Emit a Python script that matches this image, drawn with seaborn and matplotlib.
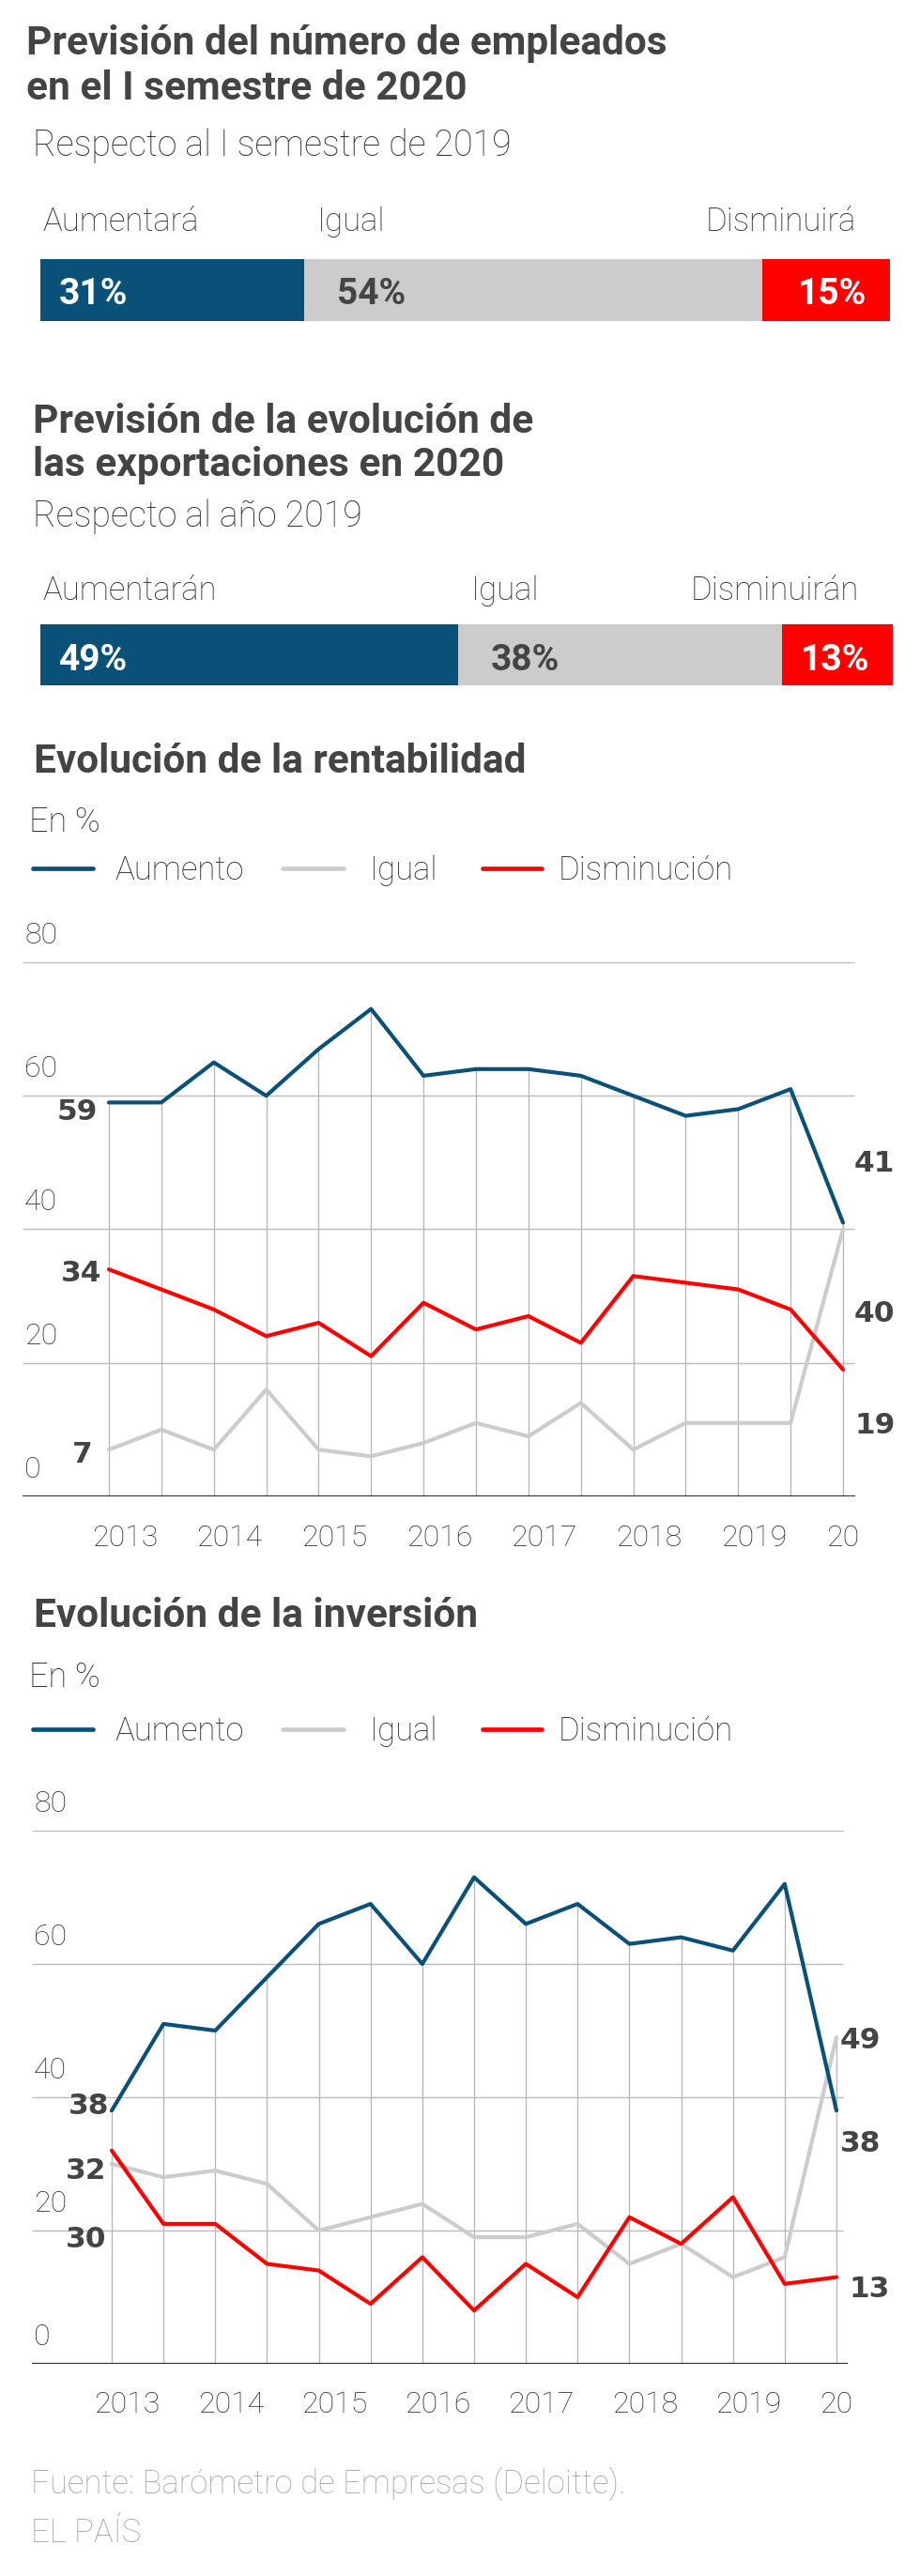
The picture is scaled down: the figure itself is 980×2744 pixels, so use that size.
import numpy as np
import pandas as pd
import seaborn as sns
import matplotlib.pyplot as plt
from matplotlib.lines import Line2D
from matplotlib import transforms

# --- data ---
bar_cats_empleo = ['Aumentará', 'Igual', 'Disminuirá']
bar_vals_empleo = [31, 54, 15]
bar_cats_export = ['Aumentarán', 'Igual', 'Disminuirán']
bar_vals_export = [49, 38, 13]

series_names = ['Aumento', 'Igual', 'Disminución']
year_labels = ['2013', '2014', '2015', '2016', '2017', '2018', '2019', '20']
semestres = list(range(15))  # 2013 I ... 2020 I

rent_aumento = [59, 59, 65, 60, 67, 73, 63, 64, 64, 63, 60, 57, 58, 61, 41]
rent_igual = [7, 10, 7, 16, 7, 6, 8, 11, 9, 14, 7, 11, 11, 11, 40]
rent_dismin = [34, 31, 28, 24, 26, 21, 29, 25, 27, 23, 33, 32, 31, 28, 19]

inv_aumento = [38, 51, 50, 58, 66, 69, 60, 73, 66, 69, 63, 64, 62, 72, 38]
inv_igual = [30, 28, 29, 27, 20, 22, 24, 19, 19, 21, 15, 18, 13, 16, 49]
inv_dismin = [32, 21, 21, 15, 14, 9, 16, 8, 15, 10, 22, 18, 25, 12, 13]

yticks = [0, 20, 40, 60, 80]

# --- style ---
BLUE = '#0a5179'
GREY = '#cccccc'
RED = '#ff0000'
DARK = '#444444'
TEXT = '#333333'
LIGHT = 'light'

sns.set_theme(style='white')
plt.rcParams['font.family'] = ['Roboto', 'DejaVu Sans']

W, H = 980, 2744
fig = plt.figure(figsize=(W / 100, H / 100), dpi=100)


def txt(x, y, s, size, color=TEXT, weight=LIGHT, ha='left'):
    fig.text(x / W, 1 - y / H, s, fontsize=size, color=color, weight=weight,
             ha=ha, va='baseline')


def stacked_bar(top, bottom, left, right, vals, cats, cat_gap, lab_drop):
    ax = fig.add_axes([left / W, 1 - bottom / H, (right - left) / W, (bottom - top) / H])
    starts = np.cumsum([0] + vals[:-1])
    ax.barh(0, vals, left=starts, height=1, color=[BLUE, GREY, RED], linewidth=0)
    ax.set_xlim(0, sum(vals))
    ax.set_ylim(-0.5, 0.5)
    ax.axis('off')
    # value labels inside the bar
    ax.annotate(f'{vals[0]}%', (starts[0], 0), xytext=(20, -lab_drop), textcoords='offset pixels',
                color='white', weight='bold', fontsize=28, va='baseline')
    ax.annotate(f'{vals[1]}%', (starts[1], 0), xytext=(35, -lab_drop), textcoords='offset pixels',
                color=DARK, weight='bold', fontsize=28, va='baseline')
    ax.annotate(f'{vals[2]}%', (starts[2] + vals[2], 0), xytext=(-25, -lab_drop), textcoords='offset pixels',
                color='white', weight='bold', fontsize=28, va='baseline', ha='right')
    # category labels above the bar
    ax.annotate(cats[0], (starts[0], 0.5), xytext=(2, cat_gap), textcoords='offset pixels',
                color=TEXT, fontsize=25, weight=LIGHT, va='baseline')
    ax.annotate(cats[1], (starts[1], 0.5), xytext=(14, cat_gap), textcoords='offset pixels',
                color=TEXT, fontsize=25, weight=LIGHT, va='baseline')
    ax.annotate(cats[2], (sum(vals), 0.5), xytext=(-36, cat_gap), textcoords='offset pixels',
                color=TEXT, fontsize=25, weight=LIGHT, va='baseline', ha='right')


def legend_row(y):
    items = [(35, 99, 122, BLUE, series_names[0]),
             (301, 366, 394, GREY, series_names[1]),
             (514, 577, 595, RED, series_names[2])]
    for x0, x1, xt, c, name in items:
        fig.add_artist(Line2D([x0 / W, x1 / W], [1 - y / H, 1 - y / H], color=c, lw=3.4,
                              solid_capstyle='round'))
        txt(xt, y + 12, name, 25)


def line_chart(top, bottom, left, right, x_first, x_last, grid_end, aum, igu, dis, tick_drop, ends):
    ax = fig.add_axes([left / W, 1 - bottom / H, (right - left) / W, (bottom - top) / H])
    unit = (x_last - x_first) / (len(semestres) - 1)
    ax.set_xlim(-(x_first - left) / unit, semestres[-1] + (right - x_last) / unit)
    ax.set_ylim(0, 80)
    for s in ax.spines.values():
        s.set_visible(False)
    ax.set_xticks([])
    ax.set_yticks([])
    xl = ax.get_xlim()
    ax.hlines(yticks[1:], xl[0], semestres[-1] + (grid_end - x_last) / unit,
              color='#bbbbbb', lw=1.0, zorder=1)
    ax.axhline(0, color='#333333', lw=1.6, zorder=4)
    tops = np.max([aum, igu, dis], axis=0)
    ax.vlines(semestres, 0, tops, color='#b5b5b5', lw=0.9, zorder=1)

    df = pd.DataFrame({
        'semestre': semestres * 3,
        'valor': aum + igu + dis,
        'serie': [series_names[0]] * 15 + [series_names[1]] * 15 + [series_names[2]] * 15,
    })
    sns.lineplot(data=df, x='semestre', y='valor', hue='serie',
                 hue_order=[series_names[1], series_names[0], series_names[2]],
                 palette={series_names[0]: BLUE, series_names[1]: GREY, series_names[2]: RED},
                 linewidth=3, legend=False, ax=ax, zorder=3)
    ax.set_xlabel('')
    ax.set_ylabel('')

    blend = transforms.blended_transform_factory(ax.transAxes, ax.transData)
    for v in yticks:
        ax.annotate(str(v), (0, v), xycoords=blend, xytext=(2, 20), textcoords='offset pixels',
                    fontsize=23, weight=LIGHT, color=TEXT, va='baseline')
    for k, lab in enumerate(year_labels):
        pos = 2 * k + 0.3 if k < len(year_labels) - 1 else semestres[-1]
        ax.annotate(lab, (pos, 0), xytext=(0, -tick_drop), textcoords='offset pixels',
                    fontsize=23, weight=LIGHT, color=TEXT, va='baseline', ha='center')
    # end-point labels
    for serie, idx, dx, dy in ends:
        ha = 'right' if idx == 0 else 'left'
        ax.annotate(str(serie[idx]), (semestres[idx], serie[idx]), xytext=(dx, dy),
                    textcoords='offset pixels', fontsize=22.5, weight='bold', color=DARK,
                    family='DejaVu Sans', ha=ha, va='center')
    return ax


# --- block 1: empleados ---
txt(28, 58, 'Previsión del número de empleados', 30.5, color=DARK, weight='bold')
txt(28, 106, 'en el I semestre de 2020', 30.5, color=DARK, weight='bold')
txt(35, 166, 'Respecto al I semestre de 2019', 27)
stacked_bar(276, 342, 43, 948, bar_vals_empleo, bar_cats_empleo, 30, 15)

# --- block 2: exportaciones ---
txt(35, 461, 'Previsión de la evolución de', 30.5, color=DARK, weight='bold')
txt(35, 507, 'las exportaciones en 2020', 30.5, color=DARK, weight='bold')
txt(35, 561, 'Respecto al año 2019', 27)
stacked_bar(665, 730, 43, 951, bar_vals_export, bar_cats_export, 26, 17)

# --- block 3: rentabilidad ---
txt(36, 823, 'Evolución de la rentabilidad', 30.5, color=DARK, weight='bold')
txt(31, 886, 'En %', 26)
legend_row(925)
line_chart(1025, 1594, 24, 911, 116, 898, 910, rent_aumento, rent_igual, rent_dismin, 53,
           [(rent_aumento, 0, -12, -10), (rent_dismin, 0, -8, -4), (rent_igual, 0, -17, -5),
            (rent_aumento, 14, 12, 63), (rent_igual, 14, 12, -90), (rent_dismin, 14, 12, -60)])

# --- block 4: inversion ---
txt(36, 1733, 'Evolución de la inversión', 30.5, color=DARK, weight='bold')
txt(31, 1797, 'En %', 26)
legend_row(1842)
line_chart(1950, 2518, 34, 903, 119, 891, 898, inv_aumento, inv_igual, inv_dismin, 52,
           [(inv_aumento, 0, -3, 5), (inv_dismin, 0, -6, -22), (inv_igual, 0, -6, -81),
            (inv_igual, 14, 4, -3), (inv_aumento, 14, 4, -35), (inv_dismin, 14, 13, -13)])

# --- footer ---
txt(33, 2657, 'Fuente: Barómetro de Empresas (Deloitte).', 25, color='#aaaaaa')
txt(33, 2708, 'EL PAÍS', 25, color='#aaaaaa')

fig.savefig('out.png', dpi=100)
